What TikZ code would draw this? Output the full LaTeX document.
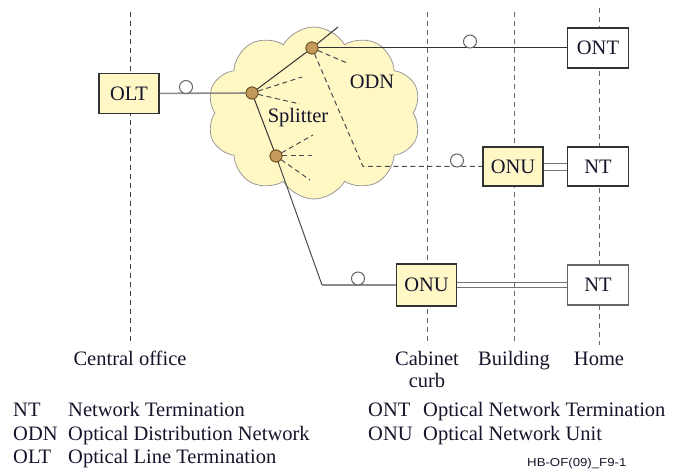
\documentclass[tikz,border=0pt]{standalone}
\usepackage{fontspec}
\setmainfont{Liberation Serif}
\newfontfamily\serifx{Liberation Serif}
\newfontfamily\hbfont[FakeStretch=1.15]{Liberation Sans}
\usetikzlibrary{shapes.symbols}
\definecolor{boxfill}{HTML}{FFF8C6}
\definecolor{cloudfill}{HTML}{FFF7C4}
\definecolor{splitfill}{HTML}{C49A5A}
\definecolor{splitdraw}{HTML}{6B5020}
\definecolor{ink}{HTML}{14142A}
\begin{document}
\begin{tikzpicture}[x=1pt,y=-1pt,
  every node/.style={font=\serifx\fontsize{20.5}{22}\selectfont, text=ink},
  ybox/.style={draw=black!80, line width=1.1pt, fill=boxfill, minimum width=60pt, minimum height=40pt, inner sep=0pt},
  wbox/.style={draw=black!80, line width=1.1pt, fill=white, minimum width=61pt, minimum height=40pt, inner sep=0pt},
  splitnode/.style={circle, draw=splitdraw, fill=splitfill, line width=0.8pt, minimum size=12pt, inner sep=0pt},
  ring/.style={circle, draw=black!60, fill=white, line width=1pt, minimum size=13pt, inner sep=0pt},
  zone/.style={draw=black!75, dashed, dash pattern=on 5pt off 4pt, line width=0.9pt},
  fibre/.style={draw=black!80, line width=1pt},
  greyfibre/.style={draw=black!45, line width=1.6pt},
  drop/.style={draw=black!70, dashed, dash pattern=on 5pt off 3.5pt, line width=1pt},
  pair/.style={draw=black!55, line width=0.9pt},
  lbl/.style={inner sep=0pt},
  zlbl/.style={inner sep=0pt, anchor=base},
  leg/.style={anchor=base west, inner sep=0pt}
]
\useasboundingbox (0,0) rectangle (674,473);
% zone coordinates
\coordinate (coT) at (130,12); \coordinate (coB) at (130,345);
\coordinate (caT) at (427,12); \coordinate (caB) at (427,345);
\coordinate (buT) at (514,12); \coordinate (buB) at (514,345);
\coordinate (hoT) at (599,8);  \coordinate (hoB) at (599,345);
\draw[zone] (coT) -- (coB);
\draw[zone, draw=black!60] (caT) -- (caB);
\draw[zone, draw=black!60] (buT) -- (buB);
\draw[zone, draw=black!60] (hoT) -- (hoB);
% cloud
\node[cloud, cloud puffs=10, cloud puff arc=120, aspect=1.3, draw=black!40, fill=cloudfill, line width=0.8pt,
      minimum width=214pt, minimum height=172pt, inner sep=0pt] (cloud) at (314,113) {};
\node[lbl] (odn) at (372,82) {ODN};
\node[lbl] (splt) at (298,118) {Splitter};
% splitter nodes
\node[splitnode] (s1) at (252,93) {};
\node[splitnode] (s2) at (312,48) {};
\node[splitnode] (s3) at (276,156) {};
% boxes
\node[ybox] (OLT) at (129,93.5) {OLT};
\node[wbox] (ONT) at (598,48) {ONT};
\node[ybox, minimum height=39pt] (ONUb) at (513,166.5) {ONU};
\node[wbox, minimum height=39pt] (NTb) at (598,166.5) {NT};
\node[ybox, minimum height=42pt] (ONUc) at (426.5,285) {ONU};
\node[wbox, draw=black!60] (NTc) at (598,285) {NT};
% connector coordinates
\coordinate (tip) at (338,27);
\coordinate (d2a) at (347,63);
\coordinate (d2b) at (363,166.5);
\coordinate (d1a) at (302,77);
\coordinate (d1b) at (300,104);
\coordinate (d3a) at (313,135);
\coordinate (d3b) at (312,156);
\coordinate (d3c) at (310,180);
\coordinate (bend) at (322,285);
% dashed drops
\draw[drop] (s2) -- (d2a);
\draw[drop] (s2) -- (d2b) -- (ONUb);
\draw[drop] (s1) -- (d1a);
\draw[drop] (s1) -- (d1b);
\draw[drop] (s3) -- (d3a);
\draw[drop] (s3) -- (d3b);
\draw[drop] (s3) -- (d3c);
% fibres
\draw[greyfibre] (OLT) -- (s1);
\draw[fibre] (s1) -- (s2) -- (tip);
\draw[fibre] (s1) -- (s3);
\draw[fibre] (s2) -- (ONT);
\draw[fibre, draw=black!70] (s3) -- (bend);
\draw[greyfibre, line width=1.3pt] (bend) -- (ONUc);
% double pairs
\draw[pair] ([yshift=3.5pt]ONUb.east) -- ([yshift=3.5pt]NTb.west);
\draw[pair] ([yshift=-3.5pt]ONUb.east) -- ([yshift=-3.5pt]NTb.west);
\draw[pair] ([yshift=2.8pt]ONUc.east) -- ([yshift=2.8pt]NTc.west);
\draw[pair] ([yshift=-2.8pt]ONUc.east) -- ([yshift=-2.8pt]NTc.west);
% redraw nodes over lines
\node[splitnode] at (s1) {};
\node[splitnode] at (s2) {};
\node[splitnode] at (s3) {};
% rings
\node[ring] (r1) at (186,87) {};
\node[ring] (r2) at (470,41.5) {};
\node[ring] (r3) at (457,160.5) {};
\node[ring] (r4) at (358,278.5) {};
% zone labels
\node[zlbl] (lco) at (130,365) {Central office};
\node[zlbl] (lca) at (427,365) {Cabinet};
\node[zlbl] (lcu) at (427,387) {curb};
\node[zlbl] (lbu) at (514,365) {Building};
\node[zlbl] (lho) at (599,365) {Home};
% legend
\node[leg] (k1) at (13,416.5) {NT};
\node[leg] (v1) at (68,416.5) {Network Termination};
\node[leg] (k2) at (13,440.5) {ODN};
\node[leg] (v2) at (68,440.5) {Optical Distribution Network};
\node[leg] (k3) at (13,463.5) {OLT};
\node[leg] (v3) at (68,463.5) {Optical Line Termination};
\node[leg] (k4) at (368,416.5) {ONT};
\node[leg] (v4) at (423,416.5) {Optical Network Termination};
\node[leg] (k5) at (368,440.5) {ONU};
\node[leg] (v5) at (423,440.5) {Optical Network Unit};
\node[leg, font=\hbfont\fontsize{11.5}{12}\selectfont] (hb) at (527,466) {HB-OF(09)\_F9-1};
\end{tikzpicture}
\end{document}
